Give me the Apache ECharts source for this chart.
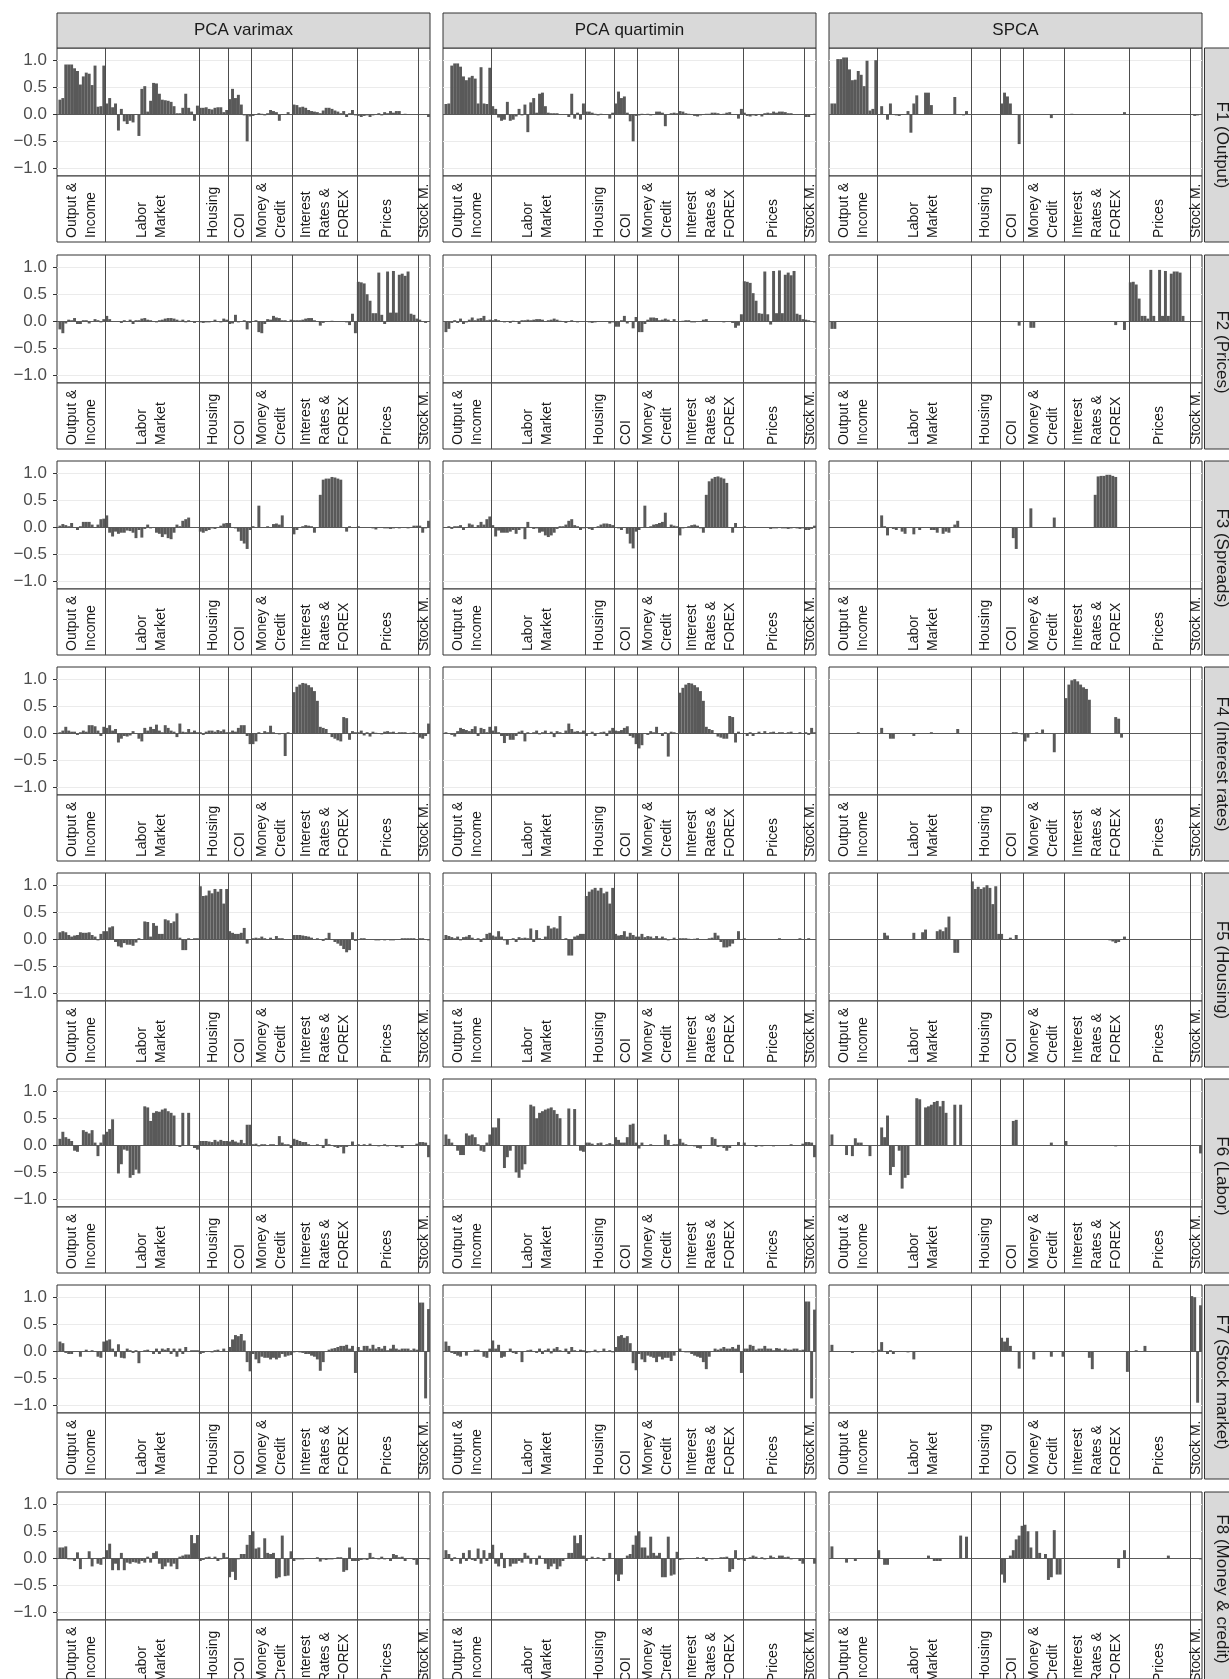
<!DOCTYPE html>
<html>
<head>
<meta charset="utf-8">
<script src="https://cdn.jsdelivr.net/npm/echarts@6.0.0/dist/echarts.min.js"></script>
<style>
html, body { margin: 0; padding: 0; background: #fff; }
#chart { width: 1229px; height: 1679px; }
</style>
</head>
<body>
<div id="chart"></div>
<script>
var groupNames = ['Output &\nIncome', 'Labor\nMarket', 'Housing', 'COI', 'Money &\nCredit', 'Interest\nRates &\nFOREX', 'Prices', 'Stock M.'];
var groupSizes = [16, 32, 10, 8, 14, 22, 21, 4];
var methods = ['PCA varimax', 'PCA quartimin', 'SPCA'];
var factors = ['F1 (Output)', 'F2 (Prices)', 'F3 (Spreads)', 'F4 (Interest rates)', 'F5 (Housing)', 'F6 (Labor)', 'F7 (Stock market)', 'F8 (Money & credit)'];
var yTicks = [-1.0, -0.5, 0.0, 0.5, 1.0];
var yTickLabels = ['\u22121.0', '\u22120.5', '0.0', '0.5', '1.0'];

// loadings, one line per group: Output, Labor, Housing, COI, Money, Interest, Prices, Stock
var f1_varimax = [
  0.27,0.3,0.92,0.92,0.92,0.85,0.8,0.55,0.7,0.77,0.75,0.54,0.9,0.14,0.15,0.9,
  0.2,0.3,0.13,0.2,-0.3,0.1,-0.13,-0.18,-0.12,-0.15,0.0,-0.4,0.47,0.52,0.05,0.25,0.58,0.57,0.38,0.27,0.26,0.25,0.23,0.15,0.02,0.02,0.12,0.38,0.12,0.05,-0.12,0.16,
  0.12,0.12,0.13,0.1,0.09,0.12,0.13,0.13,0.04,0.08,
  0.28,0.47,0.3,0.36,0.18,-0.02,-0.5,-0.04,
  -0.03,0.0,0.02,0.01,-0.02,0.02,0.08,0.06,0.04,-0.12,0.0,0.0,0.04,0.0,
  0.18,0.17,0.13,0.14,0.12,0.08,0.06,0.05,0.04,0.02,0.07,0.12,0.12,0.1,0.07,0.05,0.02,0.06,-0.05,0.02,0.08,-0.02,
  -0.03,-0.05,-0.03,-0.02,-0.05,-0.02,0.0,0.02,-0.02,0.04,0.02,0.06,0.03,0.06,0.06,0.0,0.01,0.0,0.0,0.0,0.0,
  0.0,0.0,0.0,-0.05];
var f1_quartimin = [
  0.19,0.2,0.9,0.94,0.94,0.88,0.7,0.63,0.68,0.71,0.66,0.2,0.87,0.2,0.19,0.86,
  0.15,0.1,-0.06,-0.12,-0.1,0.23,-0.12,-0.1,-0.04,0.1,-0.02,0.18,-0.33,0.22,0.3,0.03,0.38,0.4,0.15,0.03,0.02,0.02,0.02,0.0,0.0,0.0,-0.05,0.38,-0.08,0.03,-0.1,0.2,
  0.05,0.05,0.03,0.01,-0.02,0.01,0.0,-0.01,-0.08,0.03,
  0.2,0.42,0.3,0.33,0.03,-0.13,-0.5,-0.03,
  -0.02,0.01,0.0,0.01,-0.02,0.0,0.05,0.05,0.03,-0.22,0.0,0.02,0.03,0.02,
  0.06,0.05,0.02,0.01,0.0,-0.03,-0.04,-0.02,0.0,0.01,0.01,0.03,0.03,0.02,0.0,0.01,0.03,0.04,0.0,0.0,-0.08,0.1,
  0.03,-0.03,-0.04,-0.02,-0.03,0.0,-0.04,0.02,0.03,0.02,0.05,0.03,0.05,0.05,0.04,0.02,0.02,0.0,0.0,0.0,0.0,
  -0.05,-0.05,0.0,0.01];
var f1_spca = [
  0.2,0.2,1.02,1.02,1.05,1.05,0.83,0.63,0.64,0.8,0.73,0.52,0.99,0.07,0.1,1.0,
  0,0.15,0,-0.1,0.2,0,-0.02,-0.03,0,0,0.06,-0.34,0.2,0.35,0,0,0.4,0.4,0.17,0,0,0,0,0,0,0,0.32,0,0,-0.02,0.06,0,
  0,0,0,0,0,0,0,0,0,0,
  0.2,0.4,0.33,0.2,0,0,-0.55,0,
  0,0,0,0,0,0,0,0,0,-0.07,0,0,0,0,
  0,0,0.01,0,0,0,0,0,0,0,0,0,0,0,0,0,0,0,0,0,0.04,0,
  0,0,0,0,0,0,0,0,0,0,0,0,0,0,0,0,0,0,0,0,0,
  0,-0.03,-0.02,0];

var f2_varimax = [
  -0.15,-0.22,-0.04,0.03,0.02,0.06,-0.05,-0.05,0.02,0.02,-0.04,0.0,0.04,0.02,-0.02,0.04,
  0.1,0.04,0.0,0.0,0.0,-0.03,0.02,0.0,0.03,-0.05,0.02,0.02,0.05,0.06,0.03,0.02,0.0,-0.02,0.02,0.03,0.05,0.06,0.06,0.05,0.03,0.01,0.03,-0.02,0.02,0.0,-0.03,0.0,
  -0.02,-0.03,-0.02,-0.02,0.0,0.03,0.0,-0.02,0.05,0.03,
  -0.05,-0.04,0.12,-0.02,0.0,0.02,-0.15,-0.03,
  0.0,0.02,-0.2,-0.22,-0.05,0.04,0.03,0.1,0.07,0.06,0.02,0.02,0.0,0.03,
  0.02,0.02,0.02,0.03,0.05,0.06,0.06,0.02,0.0,-0.08,-0.03,0.0,0.0,0.01,0.0,0.0,0.0,0.0,-0.02,-0.07,0.14,-0.22,
  0.73,0.72,0.7,0.5,0.38,0.15,0.15,0.9,0.12,-0.05,0.92,0.16,0.93,0.16,0.86,0.88,0.84,0.92,0.14,0.12,0.05,
  0.03,0.0,-0.03,0.0];
var f2_quartimin = [
  -0.2,-0.14,-0.03,0.02,-0.03,0.05,-0.05,-0.02,0.03,0.07,0.02,0.05,0.06,0.1,0.02,0.03,
  0.02,0.04,0.02,0.0,-0.02,0.0,-0.03,0.01,0.0,-0.05,0.02,0.02,0.03,0.02,0.03,0.04,0.04,0.03,0.0,0.02,0.03,0.05,0.03,0.01,0.0,-0.03,0.0,0.02,0.0,-0.02,0.0,0.0,
  0.0,-0.02,-0.03,-0.02,0.0,0.0,0.0,0.0,-0.04,-0.02,
  -0.1,-0.1,0.02,0.1,-0.04,0.0,-0.13,0.08,
  -0.2,-0.2,-0.05,0.03,0.07,0.07,0.06,0.02,0.03,0.05,0.03,0.0,0.04,0.0,
  0.0,0.01,0.02,0.02,-0.02,-0.02,0.0,0.0,0.03,0.04,0.0,0.0,0.0,0.0,0.0,-0.02,0.0,0.0,-0.03,-0.12,-0.08,0.13,
  0.74,0.73,0.71,0.52,0.38,0.15,0.14,0.92,0.13,-0.06,0.93,0.15,0.94,0.15,0.86,0.9,0.85,0.93,0.14,0.12,0.04,
  0.03,0.02,0.0,-0.02];
var f2_spca = [
  -0.14,-0.14,0,0,0,0,0,0,0,0,0,0,0,0,0,0,
  0,0,0,0,0,0,0,0,0,0,0,0,0,0,0,0,0,0,0,0,0,0,0,0,0,0,0,0,0,0,0,0,
  0,0,0,0,0,0,0,0,0,0,
  0,0,0,0,0,0,-0.08,0,
  0,0,-0.12,-0.12,0,0,0,0,0,0,0,0,0,0,
  0,0,0,0,0,0,0,0,0,0,0,0,0,0,0,0,0,-0.07,0,0,-0.16,0,
  0.72,0.73,0.68,0.42,0.1,0.1,0.05,0.95,0.1,0.0,0.95,0.1,0.93,0.1,0.88,0.92,0.92,0.9,0.1,0.0,0.0,
  0,0,0,0];

var f3_varimax = [
  0.03,0.06,0.04,0.02,0.08,0.0,-0.05,0.02,0.1,0.1,0.1,0.05,0.0,0.05,0.15,0.16,
  0.22,-0.1,-0.17,-0.08,-0.12,-0.1,-0.1,-0.06,-0.07,-0.1,-0.2,-0.05,-0.19,-0.03,0.05,-0.02,0.0,-0.1,-0.12,-0.18,-0.13,-0.2,-0.22,-0.1,0.05,0.02,0.12,0.15,0.18,0.0,0.0,0.0,
  -0.08,-0.1,-0.07,-0.05,-0.02,-0.03,0.0,0.03,0.07,0.08,
  0.08,0.0,-0.02,-0.08,-0.25,-0.3,-0.4,-0.05,
  0.02,0.0,0.4,0.0,0.0,0.02,0.0,0.06,0.07,0.05,0.22,0.0,0.0,0.0,
  -0.13,-0.05,0.0,0.02,0.04,0.03,0.02,-0.1,0.0,0.6,0.88,0.9,0.9,0.93,0.92,0.9,0.88,0.0,-0.08,0.02,0.0,0.0,
  0.02,0.0,-0.01,0.0,0.0,-0.02,-0.04,0.0,0.0,-0.02,-0.02,-0.03,-0.02,0.0,-0.02,-0.01,0.0,-0.02,0.0,0.03,0.03,
  0.03,-0.1,-0.02,0.12];
var f3_quartimin = [
  0.0,0.02,-0.03,0.02,0.02,0.04,-0.05,0.0,0.07,0.05,0.0,0.04,0.1,0.05,0.15,0.2,
  0.04,-0.17,-0.06,-0.1,-0.1,-0.1,-0.08,-0.05,-0.12,-0.05,-0.02,-0.22,0.1,0.0,-0.03,-0.02,-0.1,-0.08,-0.15,-0.18,-0.15,-0.1,-0.03,0.02,0.02,0.05,0.12,0.15,0.04,0.02,-0.05,-0.02,
  0.0,-0.03,-0.05,0.0,0.02,0.05,0.07,0.07,0.06,0.04,
  0.0,-0.02,-0.05,0.0,-0.12,-0.3,-0.39,-0.08,
  -0.05,0.0,0.4,0.0,0.02,0.05,0.06,0.08,0.1,0.27,0.0,0.05,0.03,0.02,
  -0.15,-0.02,0.0,0.02,0.04,0.05,0.03,-0.02,-0.1,0.6,0.85,0.9,0.93,0.94,0.92,0.9,0.82,0.0,-0.1,0.08,0.0,0.0,
  0.02,0.0,0.0,0.0,0.0,0.0,0.0,0.0,0.0,-0.03,-0.02,-0.02,0.0,-0.02,-0.02,-0.03,-0.02,0.0,-0.02,-0.03,-0.02,
  -0.05,-0.05,-0.03,0.03];
var f3_spca = [
  0,0,0,0,0,0,0,0,0,0,0,0,0,0,0,0,
  0,0.22,0.02,-0.15,0,-0.03,-0.05,0,-0.08,-0.12,0,0,-0.13,0,-0.05,0,0,0,-0.05,-0.05,-0.1,0,-0.12,-0.08,-0.1,0,0.05,0.12,0,0,0,0,
  0,0,0,0,0,0,0,0,0,0,
  0,0,0,0,-0.2,-0.4,0,0,
  0,0,0.35,0,0,0,0,0,0,0,0.18,0,0,0,
  0,0,0,0,0,0,0,0,0,0,0.6,0.94,0.95,0.95,0.97,0.97,0.95,0.93,0,0,0,0,
  0,0,0,0,0,0,0,0,0,0,0,0,0,0,0,0,0,0,0,0,0,
  0,0,0,0];

var f4_varimax = [
  0.02,0.05,0.12,0.05,0.03,0.03,-0.03,0.02,0.05,0.03,0.15,0.15,0.13,0.05,-0.05,0.12,
  0.1,0.15,0.05,0.08,-0.17,-0.1,-0.05,-0.06,-0.04,0.04,0.0,-0.1,-0.15,0.1,0.05,0.12,0.08,0.16,0.05,0.02,0.15,0.1,0.05,0.03,-0.07,0.18,0.03,0.02,0.08,0.02,0.05,0.02,
  0.02,-0.03,0.03,0.05,0.05,0.03,0.06,0.04,0.07,0.02,
  0.02,0.05,0.03,0.1,0.15,0.15,-0.05,-0.2,
  -0.2,-0.15,0.02,0.0,0.04,0.02,0.14,0.02,0.0,-0.02,0.0,-0.42,0.02,0.0,
  0.76,0.86,0.9,0.93,0.92,0.89,0.85,0.78,0.6,0.12,0.1,0.08,0.0,-0.07,-0.1,-0.13,-0.15,0.3,0.28,-0.12,0.04,0.02,
  0.02,0.05,-0.04,0.02,-0.06,0.03,0.01,0.0,-0.02,0.03,0.04,0.02,0.03,0.0,0.02,0.02,0.02,0.0,0.01,0.02,0.0,
  -0.08,-0.1,-0.05,0.18];
var f4_quartimin = [
  0.02,0.0,-0.03,-0.06,0.04,0.1,0.08,0.06,0.04,0.08,0.13,-0.05,0.1,0.08,0.02,0.12,
  0.05,0.13,0.02,-0.05,-0.18,-0.05,-0.12,-0.12,-0.05,0.03,0.05,-0.15,0.02,0.0,0.02,0.05,-0.02,0.02,0.05,0.0,0.03,-0.07,0.04,0.02,0.0,0.05,0.18,0.08,0.03,0.04,0.02,0.05,
  -0.05,0.0,0.03,-0.05,0.0,0.02,0.03,-0.05,0.05,0.1,
  0.05,0.04,0.06,0.1,0.13,-0.05,-0.08,-0.2,
  -0.28,-0.22,0.0,-0.03,0.04,0.02,0.12,0.0,-0.05,0.02,-0.43,0.03,0.02,0.0,
  0.75,0.84,0.9,0.93,0.92,0.89,0.85,0.78,0.6,0.12,0.08,0.06,0.0,-0.06,-0.08,-0.1,-0.1,0.32,0.3,-0.17,0.03,0.0,
  0.0,-0.05,0.02,-0.05,0.0,0.03,0.0,0.04,0.0,0.02,0.03,0.0,0.02,0.02,0.0,0.02,0.03,0.0,0.0,0.02,0.0,
  0.02,-0.03,0.1,0.02];
var f4_spca = [
  0,0,0,0,0,0,0,0,0,0.02,0,0,0,0,0,0,
  0,0.1,0,0,-0.1,-0.1,0,0,0,0,0,0,-0.05,0,0,0,0,0,0.02,0,0,0,0,0,0,0,0,0.08,0,0,0,0,
  0,0,0,0,0,0,0,0,0,0,
  0,0,0,0,0.02,0.02,0,-0.02,
  -0.15,-0.08,0,0,0.02,0,0.07,0,0,0,-0.35,0,0,0,
  0.65,0.9,0.98,1.0,0.96,0.9,0.85,0.82,0.62,0,0,0,0,0,0,0,0,0.3,0.27,-0.08,0,0,
  0,0,0,0,0,0,0,0,0,0,0,0,0,0,0,0,0,0,0,0,0,
  0,0,0,0];

var f5_varimax = [
  0.13,0.15,0.13,0.08,0.05,0.07,0.08,0.13,0.12,0.12,0.13,0.08,0.05,-0.02,0.1,0.15,
  0.15,0.22,0.24,-0.05,-0.13,-0.15,-0.07,-0.1,-0.1,-0.12,-0.06,0.02,0.0,0.33,0.32,0.05,0.3,0.25,0.1,0.1,0.37,0.35,0.3,0.33,0.48,0.03,-0.2,-0.2,0.02,0.0,0.02,0.02,
  0.98,0.8,0.81,0.9,0.85,0.93,0.88,0.93,0.66,0.93,
  0.15,0.12,0.1,0.1,0.12,0.21,-0.08,0.0,
  0.02,0.03,0.02,0.05,0.02,0.0,0.03,0.0,0.06,0.02,0.02,0.0,0.0,-0.01,
  0.08,0.08,0.08,0.07,0.06,0.05,0.03,0.0,0.02,0.0,-0.03,0.02,0.12,0.0,-0.05,-0.08,-0.12,-0.18,-0.24,-0.2,0.13,-0.03,
  0.0,0.02,0.02,0.0,0.0,-0.01,-0.02,-0.02,0.0,-0.02,0.0,-0.02,-0.02,0.0,0.0,0.02,0.02,0.02,0.02,0.02,0.0,
  0.02,0.02,0.0,-0.02];
var f5_quartimin = [
  0.08,0.06,0.04,0.02,0.05,-0.02,0.04,0.05,0.08,0.03,0.0,0.02,-0.05,0.02,0.1,0.12,
  0.07,0.05,0.15,0.05,-0.02,-0.1,0.0,0.02,-0.05,0.04,0.02,0.03,0.02,0.2,-0.05,0.17,0.02,0.0,0.05,0.25,0.2,0.22,0.2,0.43,0.0,0.02,-0.3,-0.3,0.05,0.07,0.1,0.1,
  0.8,0.88,0.92,0.95,0.9,0.95,0.85,0.88,0.66,0.95,
  0.1,0.07,0.08,0.15,0.05,0.12,0.08,0.05,
  0.05,0.1,0.04,0.06,0.05,0.02,0.06,0.02,0.05,0.02,-0.02,0.0,0.03,0.0,
  0.02,0.02,0.02,0.01,0.0,0.01,0.02,0.0,0.0,-0.01,0.02,0.03,0.12,0.07,-0.05,-0.15,-0.15,-0.13,-0.08,0.0,0.15,0.0,
  0.02,0.0,0.0,0.0,0.0,0.0,0.0,0.0,0.0,0.0,0.0,0.0,0.02,0.0,0.0,0.0,0.0,0.0,0.0,0.02,0.0,
  0.0,0.02,0.0,0.0];
var f5_spca = [
  0,0,0,0,0,0,0,0,0,0,0,0,0,0,0,0,
  0,0,0.12,0.07,0,0,0,0,0,0,0,0,0.12,0,0,0.13,0.18,0,0,0,0.15,0.18,0.15,0.22,0.42,0,-0.25,-0.25,0,0,0,0,
  1.07,0.93,0.97,0.93,0.96,1.0,0.95,0.65,0.98,0.1,
  0.1,0,0,0.03,0,0.08,0,0,
  0,0,0,0,0,0,0,0,0,0,0,0,0,0,
  0,0,0,0,0,0,0,0,0,0,0,0,0,0,0,-0.02,-0.04,-0.07,-0.05,0,0.05,0,
  0,0,0,0,0,0,0,0,0,0,0,0,0,0,0,0,0,0,0,0,0,
  0,0,0,0];

var f6_varimax = [
  0.12,0.25,0.15,0.12,0.08,-0.1,-0.12,0.0,0.28,0.25,0.22,0.28,0.05,-0.2,0.05,0.2,
  0.25,0.3,0.48,0.0,-0.52,-0.35,-0.08,-0.1,-0.6,-0.55,-0.45,-0.52,0.0,0.72,0.7,0.45,0.6,0.63,0.62,0.66,0.68,0.63,0.6,0.55,0.0,-0.03,0.6,0.0,0.6,0.0,-0.05,-0.08,
  0.08,0.08,0.08,0.07,0.06,0.1,0.07,0.1,0.08,0.08,
  0.07,0.1,0.07,0.05,0.1,0.04,0.38,0.38,
  0.02,0.03,-0.02,0.02,0.02,0.0,0.02,0.02,0.0,0.17,0.05,0.02,0.02,-0.05,
  0.12,0.1,0.08,0.06,0.06,0.02,0.0,0.0,0.02,0.0,-0.05,0.12,0.02,0.0,-0.03,-0.05,-0.03,-0.15,-0.03,0.0,0.07,0.0,
  0.02,0.0,0.02,0.0,0.03,0.0,0.0,-0.02,0.0,0.02,-0.02,0.0,0.0,-0.03,-0.02,-0.05,0.0,0.0,0.0,0.0,0.03,
  0.06,0.06,0.05,-0.22];
var f6_quartimin = [
  0.2,0.12,0.05,0.0,-0.1,-0.18,-0.18,0.22,0.18,0.2,0.15,0.02,-0.1,-0.12,0.05,0.2,
  0.33,0.33,0.5,0.0,-0.42,-0.22,-0.1,0.0,-0.5,-0.6,-0.45,-0.35,0.0,0.75,0.72,0.5,0.6,0.63,0.66,0.68,0.7,0.65,0.58,0.5,0.0,0.0,0.68,0.0,0.67,0.0,-0.1,-0.12,
  0.05,0.05,0.03,0.0,0.04,0.05,0.0,0.02,0.04,0.02,
  0.15,0.1,0.05,0.05,0.15,0.38,0.4,0.05,
  -0.06,0.05,0.0,0.0,0.02,0.0,0.0,0.0,0.0,0.2,0.1,0.0,0.02,0.02,
  0.12,0.05,0.02,0.0,0.0,-0.02,-0.05,-0.06,0.0,0.0,0.0,0.15,0.12,-0.03,-0.02,-0.05,-0.1,-0.05,0.0,0.0,0.06,0.0,
  0.05,0.0,0.0,0.0,-0.03,0.0,-0.02,0.0,0.0,0.0,-0.02,0.0,0.0,0.0,0.0,0.0,0.02,0.0,0.0,0.0,0.03,
  0.06,0.06,0.05,-0.22];
var f6_spca = [
  0.2,0,0,0,0,-0.18,0,-0.2,0.13,0.05,0.05,0,0,-0.2,0,0,
  0,0.33,0.15,0.55,-0.55,-0.4,0,-0.1,-0.8,-0.6,-0.55,0,0,0.87,0.85,0,0.7,0.72,0.75,0.8,0.82,0.72,0.82,0.6,0,0,0.75,0,0.75,0,0,0,
  0,0,0,0,0,0,0,0,0,0,
  0,0,0,0,0.45,0.47,0,0,
  0,0,0,0,0,0,0,0,0,0.05,0,0,0,0,
  0.08,0,0,0,0,0,0,0,0,0,0,0,0,0,0,0,0,-0.02,0,0,0,0,
  0,0,0,0,0,0,0,0,0,0,0,0,0,0,0,0,0,0,0,0,0,
  0,0,0,-0.15];

var f7_varimax = [
  0.18,0.15,-0.03,-0.05,-0.05,0.0,0.0,-0.1,0.0,0.03,0.0,0.02,0.0,-0.1,-0.12,0.18,
  0.2,0.22,0.05,-0.1,0.13,-0.12,-0.13,0.05,0.02,-0.03,0.02,-0.22,0.0,0.02,0.03,0.0,-0.05,0.05,-0.05,0.05,0.03,0.06,-0.05,0.05,-0.1,0.05,-0.05,0.08,0.0,0.02,0.02,0.02,
  -0.05,-0.03,0.0,0.0,-0.02,0.02,0.03,0.0,0.05,0.0,
  0.08,0.22,0.3,0.28,0.32,0.2,-0.2,-0.37,
  -0.05,-0.15,-0.22,-0.1,-0.12,-0.12,-0.15,-0.12,-0.15,-0.12,-0.05,-0.1,-0.08,-0.07,
  -0.02,0.0,-0.02,-0.03,-0.05,-0.05,-0.08,-0.1,-0.15,-0.36,-0.2,0.0,0.03,0.05,0.06,0.08,0.1,0.1,0.12,0.05,0.1,-0.4,
  0.08,0.02,0.1,0.1,0.05,0.12,0.05,0.08,0.05,0.1,0.02,0.05,0.12,0.05,0.03,0.05,0.05,0.05,0.02,0.05,0.03,
  0.9,0.9,-0.87,0.78];
var f7_quartimin = [
  0.18,0.1,-0.03,-0.05,-0.08,-0.1,0.0,-0.08,0.0,0.0,0.03,0.03,0.0,-0.1,-0.12,0.05,
  0.2,0.05,0.12,-0.12,-0.1,0.0,0.05,-0.03,-0.05,0.0,-0.2,0.0,0.02,0.03,0.0,-0.03,0.05,-0.05,0.02,0.05,-0.04,0.05,0.08,0.02,0.0,0.05,-0.05,0.08,0.02,0.0,0.03,0.02,
  -0.03,-0.02,0.0,0.03,-0.02,0.0,0.05,0.0,0.02,-0.02,
  0.08,0.28,0.3,0.25,0.28,0.15,-0.22,-0.35,
  -0.05,-0.15,-0.2,-0.08,-0.1,-0.12,-0.2,-0.1,-0.15,-0.12,-0.12,-0.18,-0.08,0.0,
  0.05,0.0,-0.02,-0.02,-0.05,-0.08,-0.1,-0.12,-0.2,-0.33,-0.1,0.0,0.05,0.03,0.05,0.08,0.05,0.05,0.08,0.05,0.12,-0.4,
  0.05,0.05,0.12,0.1,0.03,0.05,0.05,0.1,0.05,0.05,0.02,0.06,0.05,0.02,0.05,0.03,0.03,0.05,0.05,0.02,0.03,
  0.92,0.92,-0.87,0.77];
var f7_spca = [
  0.12,0,0,0,0,0,0,-0.03,0,0,0,0,0,0,-0.02,0,
  0.03,0.17,0,-0.05,0.02,-0.05,0,0,0,0,-0.02,0,-0.15,0,0,0,0,0,0,0,0,0,0,0,0,0,0,0,0,0,0,0,
  0,0,0,0,0,0,0,0,0,0,
  0.25,0.18,0.25,0.1,0,0,-0.32,0,
  0,0,0,-0.15,0,0,0,0,0,-0.1,0,0,0,-0.1,
  0,0,0,0,0,0,0,0,-0.12,-0.33,0,0,0,0,0,0,0,0,0,0,0,-0.38,
  0,0,0.02,0,0,0.1,0,0,0,0,0,0,0,0,0,0,0,0,0,0,0,
  1.02,1.0,-0.95,0.85];

var f8_varimax = [
  0.2,0.2,0.22,-0.02,-0.02,-0.05,0.11,-0.2,0.0,0.0,0.13,-0.15,0.0,-0.1,-0.12,0.02,
  0.15,0.27,-0.22,-0.1,-0.22,0.1,-0.22,-0.08,-0.1,-0.07,-0.08,-0.1,-0.05,-0.08,0.03,-0.08,0.1,0.13,-0.1,-0.2,-0.15,-0.08,-0.15,-0.1,-0.2,0.03,0.05,0.07,0.07,0.43,0.28,0.43,
  -0.05,-0.03,0.02,0.03,0.0,0.03,-0.05,-0.02,0.1,0.02,
  -0.35,-0.25,-0.4,-0.02,0.08,0.08,0.25,0.43,
  0.5,0.18,0.2,0.0,0.37,0.1,0.08,0.1,-0.37,-0.35,0.42,-0.33,-0.32,0.13,
  -0.05,-0.02,-0.02,-0.02,0.0,0.0,0.0,0.0,0.02,-0.06,-0.02,-0.03,-0.02,-0.02,0.0,0.02,0.02,-0.25,-0.22,0.2,-0.05,-0.05,
  -0.05,-0.03,-0.02,-0.03,0.1,0.02,0.0,-0.02,0.03,-0.02,0.0,-0.05,0.08,0.06,0.02,0.03,-0.05,0.0,0.0,-0.03,-0.12,
  0.0,0.0,0.0,-0.02];
var f8_quartimin = [
  0.15,0.08,-0.05,0.02,0.0,-0.1,0.1,-0.05,0.15,-0.03,-0.05,0.18,-0.1,0.15,-0.05,0.1,
  0.25,-0.1,-0.15,0.1,-0.18,0.0,-0.15,-0.1,-0.1,-0.05,-0.08,0.1,0.05,-0.1,0.0,-0.12,0.05,0.0,-0.1,-0.2,-0.15,-0.1,-0.2,-0.15,-0.05,0.0,0.1,0.1,0.42,0.28,0.43,0.05,
  -0.05,0.0,0.03,0.0,0.02,0.0,-0.05,0.0,0.1,0.0,
  -0.3,-0.42,-0.3,0.0,0.05,0.08,0.25,0.42,
  0.5,0.2,0.2,0.05,0.4,0.1,0.05,0.1,-0.35,-0.35,0.4,-0.32,-0.3,0.12,
  -0.03,-0.02,0.0,0.0,0.0,0.0,0.02,0.0,0.02,-0.05,0.0,-0.02,0.0,0.0,0.02,0.02,0.03,-0.25,-0.2,0.15,-0.03,-0.02,
  -0.05,0.0,0.02,0.05,0.03,0.0,0.02,-0.02,0.0,0.05,0.02,0.0,0.05,0.05,0.02,0.03,-0.02,0.0,0.0,-0.05,-0.1,
  0.0,0.0,0.0,-0.1];
var f8_spca = [
  0.22,0,0,0,0,-0.08,0,0,-0.05,0,0,0,0,0,0,0,
  0.15,0,-0.12,-0.12,0,0,0,0,0,0,0,0,0,0,0,0,0,0.05,0,-0.05,-0.05,-0.05,0,0,0,0,0,0,0.42,0.0,0.4,0,
  0,0,0,0,0,0,0,0,0,0,
  -0.3,-0.45,0,0.05,0.15,0.35,0.42,0.6,
  0.62,0.5,0.2,0.0,0.5,0.1,0.0,0.08,-0.4,-0.35,0.52,-0.3,-0.3,0.0,
  0,0,0,0,0,0,0,0,0,0,0,0,0,0,0,0,0,0,-0.18,0,0.15,0,
  0,0,0,0,0,0,0,0,0,0,0,0,0,0.05,0,0,0,0,0,0,0,
  0,0,0,-0.02];

var loadings = [
  [f1_varimax, f1_quartimin, f1_spca],
  [f2_varimax, f2_quartimin, f2_spca],
  [f3_varimax, f3_quartimin, f3_spca],
  [f4_varimax, f4_quartimin, f4_spca],
  [f5_varimax, f5_quartimin, f5_spca],
  [f6_varimax, f6_quartimin, f6_spca],
  [f7_varimax, f7_quartimin, f7_spca],
  [f8_varimax, f8_quartimin, f8_spca]
];

var chart = echarts.init(document.getElementById('chart'));

// layout
var colLeft = [57, 443, 829];
var panelW = 373;
var rowTop0 = 48.3, rowStep = 206.2, plotH = 128, labelH = 66;
var nVar = 0;
groupSizes.forEach(function (n) { nVar += n; });
var xMin = 0, xMax = nVar + 0.5;
var yMin = -1.14, yMax = 1.225;
var fontFam = '"Liberation Sans", Arial, sans-serif';

// boundaries between groups
var seps = [];
var acc = 0;
for (var g = 0; g < groupSizes.length - 1; g++) {
    acc += groupSizes[g];
    seps.push(acc + 0.5);
}

function tickLabel(v) {
    for (var i = 0; i < yTicks.length; i++) if (Math.abs(yTicks[i] - v) < 1e-6) return yTickLabels[i];
    return '';
}

var grids = [], xAxes = [], yAxes = [], series = [];
var panels = [];
for (var r = 0; r < factors.length; r++) {
    for (var c = 0; c < methods.length; c++) {
        var vals = loadings[r][c];
        var pTop = Math.round(rowTop0 + rowStep * r);
        var pLeft = colLeft[c];
        var gi = grids.length;
        panels.push({gi: gi, pTop: pTop});

        // plot area
        grids.push({left: pLeft, top: pTop, width: panelW, height: plotH, show: true,
            borderColor: '#333333', borderWidth: 1, backgroundColor: '#ffffff'});
        xAxes.push({gridIndex: gi, type: 'value', min: xMin, max: xMax, show: false});
        var ya = {gridIndex: gi, type: 'value', min: yMin, max: yMax, show: c === 0,
            axisLine: {show: false}, splitLine: {show: false}};
        if (c === 0) {
            ya.axisTick = {show: true, customValues: yTicks, length: 4, lineStyle: {color: '#333333', width: 1}};
            ya.axisLabel = {show: true, customValues: yTicks, margin: 10, color: '#4d4d4d', fontSize: 17,
                fontFamily: fontFam, formatter: tickLabel};
        }
        yAxes.push(ya);

        // label box below the plot
        grids.push({left: pLeft, top: pTop + plotH, width: panelW, height: labelH, show: true,
            borderColor: '#333333', borderWidth: 1, backgroundColor: '#ffffff'});
        xAxes.push({gridIndex: gi + 1, type: 'value', min: xMin, max: xMax, show: false});
        yAxes.push({gridIndex: gi + 1, type: 'value', min: 0, max: 1, show: false});

        // grid lines, kept behind the bars
        series.push({
            type: 'line', xAxisIndex: gi, yAxisIndex: gi, data: [], silent: true, z: 1,
            markLine: {z: 1, silent: true, symbol: 'none', label: {show: false}, animation: false,
                lineStyle: {color: '#ebebeb', width: 1.1, type: 'solid'},
                data: [{yAxis: -1}, {yAxis: -0.5}, {yAxis: 0.5}, {yAxis: 1}]}
        });
        // bars
        series.push({
            type: 'bar', xAxisIndex: gi, yAxisIndex: gi, silent: true, z: 2,
            barWidth: 2.95, itemStyle: {color: '#595959'},
            data: vals.map(function (v, i) { return [i + 1, v]; })
        });
        // zero line and group separators
        var ml = [{yAxis: 0, lineStyle: {color: '#595959', width: 1, type: 'solid'}}];
        seps.forEach(function (s) { ml.push({xAxis: s}); });
        series.push({
            type: 'line', xAxisIndex: gi, yAxisIndex: gi, data: [], silent: true, z: 3,
            markLine: {z: 5, silent: true, symbol: 'none', label: {show: false}, animation: false,
                lineStyle: {color: '#4d4d4d', width: 1, type: 'solid'}, data: ml}
        });
        series.push({
            type: 'line', xAxisIndex: gi + 1, yAxisIndex: gi + 1, data: [], silent: true, z: 3,
            markLine: {z: 5, silent: true, symbol: 'none', label: {show: false}, animation: false,
                lineStyle: {color: '#4d4d4d', width: 1, type: 'solid'},
                data: seps.map(function (s) { return {xAxis: s}; })}
        });
    }
}

chart.setOption({animation: false, backgroundColor: '#fff', grid: grids, xAxis: xAxes, yAxis: yAxes, series: series});

// strips and group labels
var graphics = [];
var stripTop = 13;
var top0 = Math.round(rowTop0);
methods.forEach(function (m, c) {
    graphics.push({type: 'rect', z: 10, shape: {x: colLeft[c], y: stripTop, width: panelW, height: top0 - stripTop},
        style: {fill: '#d9d9d9', stroke: '#333333', lineWidth: 1}});
    graphics.push({type: 'text', z: 11, x: colLeft[c] + panelW / 2, y: (stripTop + top0) / 2,
        style: {text: m, font: '17px ' + fontFam, fill: '#1a1a1a', align: 'center', verticalAlign: 'middle'}});
});
factors.forEach(function (f, r) {
    var sTop = Math.round(rowTop0 + rowStep * r);
    var sx = colLeft[2] + panelW + 2.5;
    graphics.push({type: 'rect', z: 10, shape: {x: sx, y: sTop, width: 34, height: plotH + labelH},
        style: {fill: '#d9d9d9', stroke: '#333333', lineWidth: 1}});
    graphics.push({type: 'text', z: 11, x: sx + 17, y: sTop + (plotH + labelH) / 2, rotation: -Math.PI / 2,
        style: {text: f, font: '17px ' + fontFam, fill: '#1a1a1a', align: 'center', verticalAlign: 'middle'}});
});
panels.forEach(function (p) {
    var start = 0.5;
    groupSizes.forEach(function (n, g) {
        var end = (g === groupSizes.length - 1) ? xMax : start + n;
        var cx = chart.convertToPixel({xAxisIndex: p.gi + 1}, (start + end) / 2);
        graphics.push({type: 'text', z: 11, x: cx, y: p.pTop + plotH + labelH - 4, rotation: Math.PI / 2,
            style: {text: groupNames[g], font: '14px ' + fontFam, fill: '#1a1a1a', align: 'left', verticalAlign: 'middle', lineHeight: 19}});
        start += n;
    });
});
chart.setOption({graphic: graphics});
</script>
</body>
</html>
